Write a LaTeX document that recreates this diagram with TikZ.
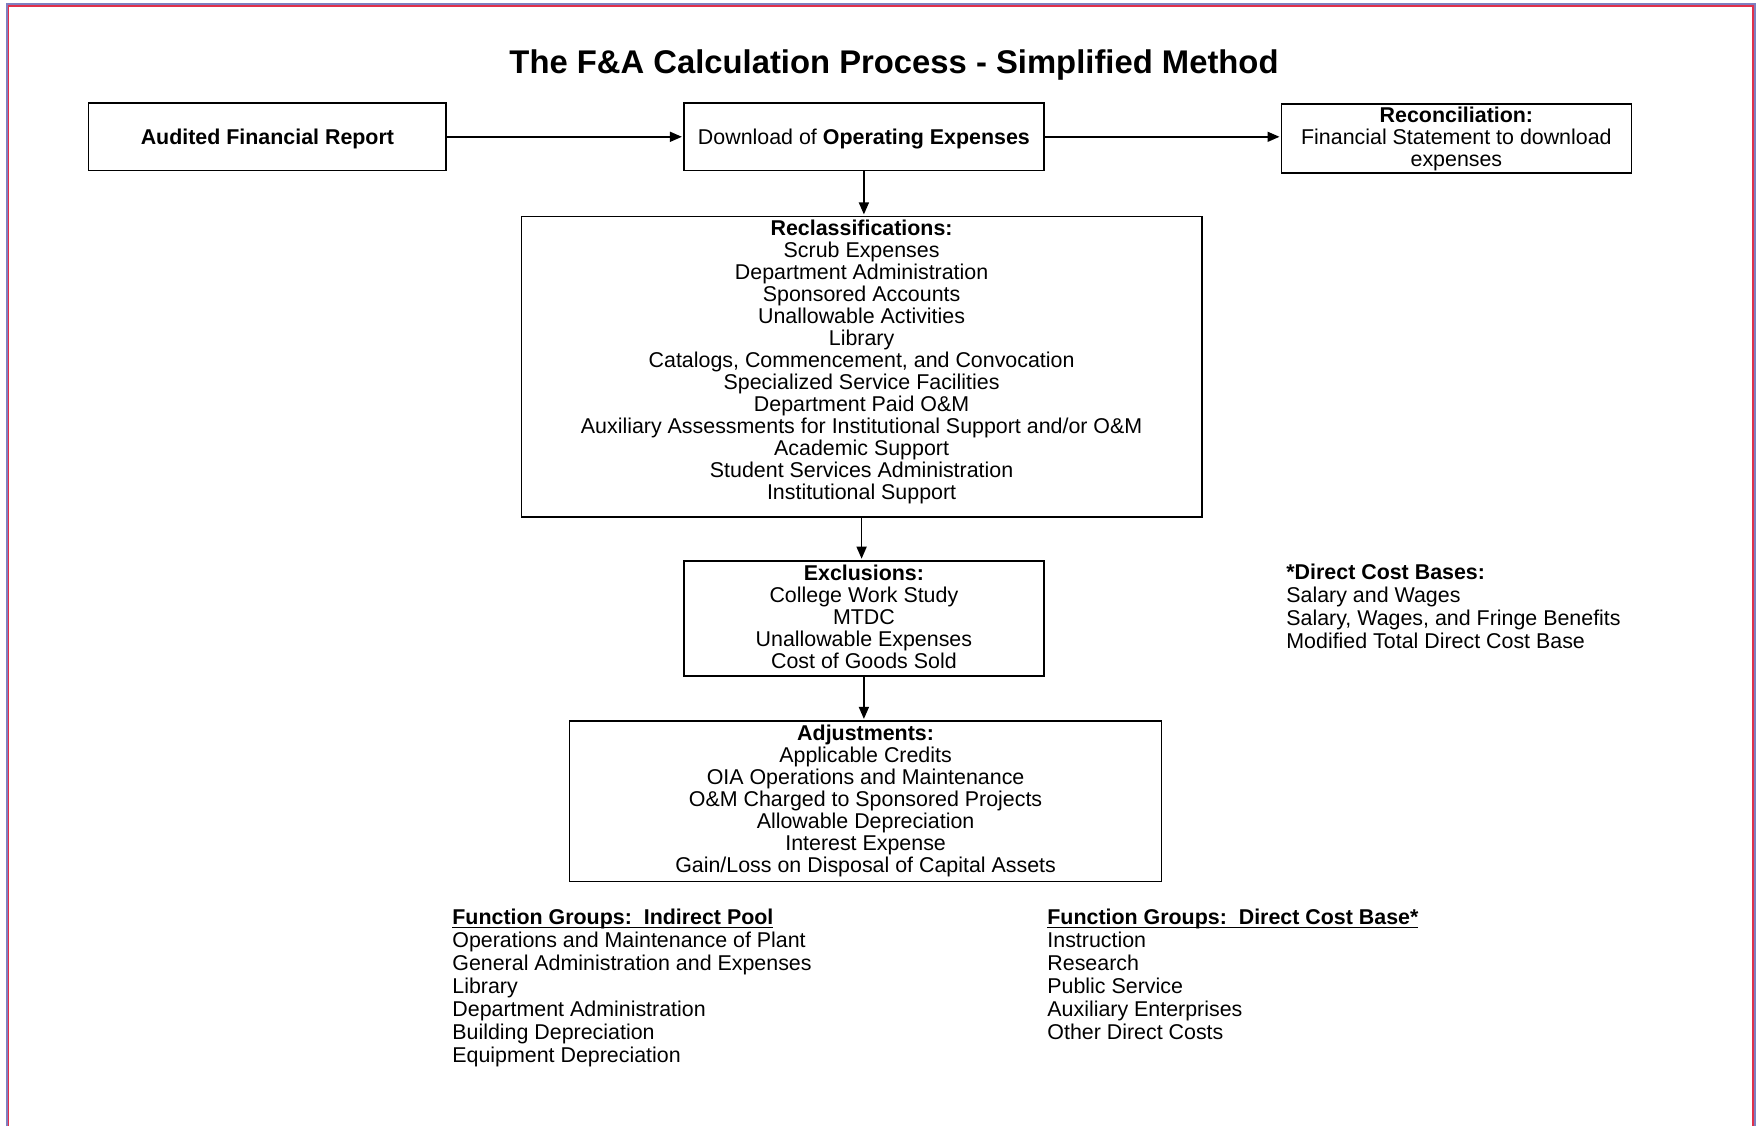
\documentclass[tikz,border=0pt]{standalone}
\usepackage{fontspec}
\setmainfont{Liberation Sans}
\usetikzlibrary{arrows.meta}

\definecolor{framepurple}{HTML}{7F7FC0}
\definecolor{framered}{HTML}{E0304A}

\begin{document}
\begin{tikzpicture}[x=0.5pt, y=-0.5pt,
    stepbox/.style={shape=rectangle, draw=black, line width=0.8pt, fill=white,
      align=center, inner sep=0pt, font=\fontsize{10.7}{11}\selectfont},
    flow/.style={-{Triangle[length=6pt,width=5pt]}, line width=0.8pt, shorten >=0.6pt},
    listtext/.style={anchor=north west, align=left, inner sep=0pt,
      font=\fontsize{10.7}{11.5}\selectfont}]
  \useasboundingbox (0,0) rectangle (1758,1126);

  % frame
  \draw[framepurple, line width=1.2pt] (7,1126) -- (7,4) -- (1755,4) -- (1755,1126);
  \draw[framered, line width=0.6pt] (8.6,1126) -- (8.6,6) -- (1753,6) -- (1753,1126);

  % title
  \node[anchor=base, inner sep=0pt, font=\fontsize{16.4}{18}\selectfont\bfseries] at (894,73)
  (title) {The F\&A Calculation Process - Simplified Method};

  % nodes
  \node[stepbox, minimum width=178.8pt, minimum height=33.6pt, text depth=0pt] at (267.4,136.8)
  (audit) {\textbf{Audited Financial Report}};
  \node[stepbox, minimum width=180pt, minimum height=33.6pt, text depth=0pt] at (863.9,136.8)
  (download) {Download of \textbf{Operating Expenses}};
  \node[stepbox, minimum width=174.9pt, minimum height=34.7pt] at (1456.4,138.5)
  (recon) {\textbf{Reconciliation:}\\Financial Statement to download\\expenses};
  \node[stepbox, minimum width=340.3pt, minimum height=150.2pt] at (861.6,366.6)
  (reclass) {\textbf{Reclassifications:}\\Scrub Expenses\\Department Administration\\
    Sponsored Accounts\\Unallowable Activities\\Library\\
    Catalogs, Commencement, and Convocation\\Specialized Service Facilities\\
    Department Paid O\&M\\Auxiliary Assessments for Institutional Support and/or O\&M\\
    Academic Support\\Student Services Administration\\
    Institutional Support\rule[-7pt]{0pt}{7pt}};
  \node[stepbox, minimum width=180pt, minimum height=57.7pt] at (863.9,618.4)
  (exclude) {\textbf{Exclusions:}\\College Work Study\\MTDC\\Unallowable Expenses\\
    Cost of Goods Sold\rule[-2pt]{0pt}{2pt}};
  \node[stepbox, minimum width=296pt, minimum height=80.2pt] at (865.6,801.1)
  (adjust) {\textbf{Adjustments:}\\Applicable Credits\\OIA Operations and Maintenance\\
    O\&M Charged to Sponsored Projects\\Allowable Depreciation\\Interest Expense\\
    Gain/Loss on Disposal of Capital Assets};

  % lists
  \node[listtext] at (1286,564)
  (bases) {\textbf{*Direct Cost Bases:}\\Salary and Wages\\
    Salary, Wages, and Fringe Benefits\\Modified Total Direct Cost Base};
  \node[listtext] at (452,924)
  (indirect) {\underline{\smash{\textbf{Function Groups:\ \ Indirect Pool}}}\\
    Operations and Maintenance of Plant\\General Administration and Expenses\\
    Library\\Department Administration\\Building Depreciation\\Equipment Depreciation};
  \node[listtext] at (1047,924)
  (direct) {\underline{\smash{\textbf{Function Groups:\ \ Direct Cost Base*}}}\\
    Instruction\\Research\\Public Service\\Auxiliary Enterprises\\Other Direct Costs};

  % arcs
  \path
  (audit) edge[flow] (download)
  (download.east) edge[flow] (download.east -| recon.west)
  (download.south) edge[flow] (download.south |- reclass.north)
  (reclass.south) edge[flow] (reclass.south |- exclude.north)
  (exclude.south) edge[flow] (exclude.south |- adjust.north)
  ;
\end{tikzpicture}
\end{document}
